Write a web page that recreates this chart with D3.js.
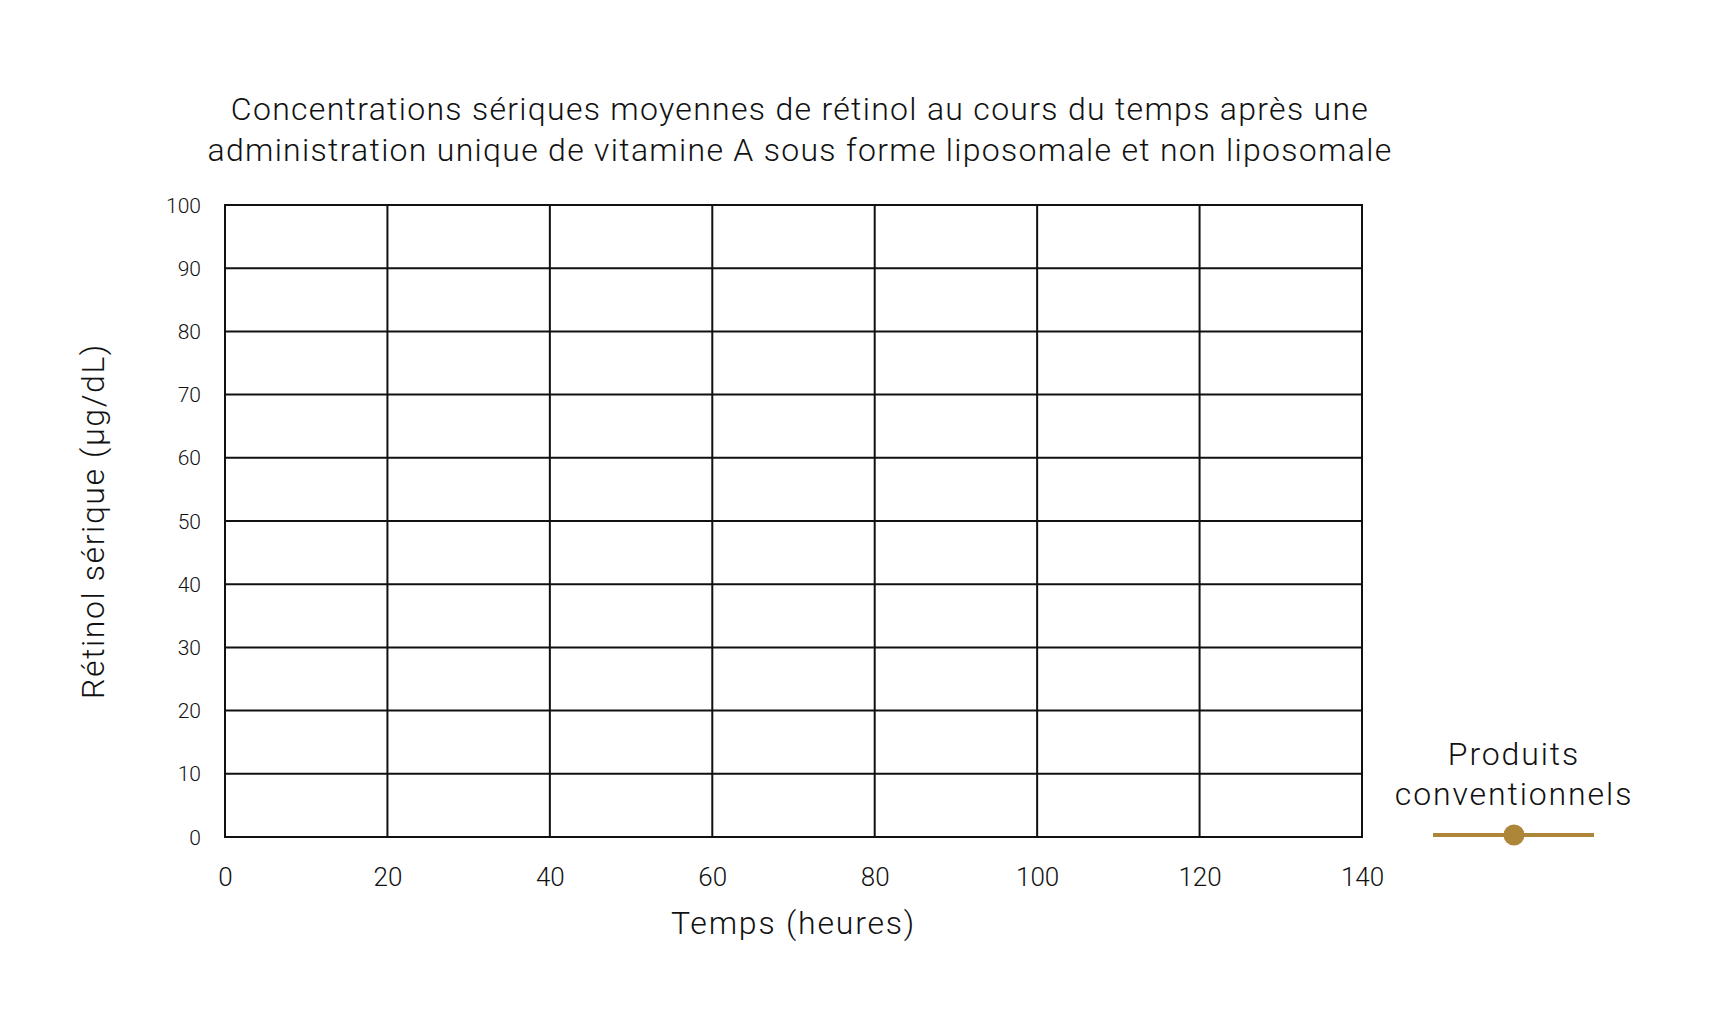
<!DOCTYPE html>
<html>
<head>
<meta charset="utf-8">
<script src="https://cdn.jsdelivr.net/npm/d3@7"></script>
<style>
  body { margin: 0; background: #fff; }
  svg text { font-family: Roboto, "Noto Sans", sans-serif; font-weight: 300; fill: #111; }
</style>
</head>
<body>
<div id="chart"></div>
<script>
// chart values
var titleLines = ["Concentrations sériques moyennes de rétinol au cours du temps après une",
                  "administration unique de vitamine A sous forme liposomale et non liposomale"];
var xLabel = "Temps (heures)";
var yLabel = "Rétinol sérique (µg/dL)";
var xTicks = [0, 20, 40, 60, 80, 100, 120, 140];
var yTicks = [0, 10, 20, 30, 40, 50, 60, 70, 80, 90, 100];
var legendLines = ["Produits", "conventionnels"];
var seriesColors = ["#ad863a"];
// no measured points are drawn in the reference
var conventionnels = [];

var W = 1719, H = 1029;
var mLeft = 225, mRight = 1362, mTop = 205, mBottom = 837;

var svg = d3.select('#chart').append('svg').attr('width', W).attr('height', H);

var xScale = d3.scaleLinear().domain([0, 140]).range([mLeft, mRight]);
var yScale = d3.scaleLinear().domain([0, 100]).range([mBottom, mTop]);

// grid
svg.append('g').selectAll('line').data(yTicks).enter().append('line')
  .attr('x1', mLeft - 1).attr('x2', mRight + 1)
  .attr('y1', d => yScale(d)).attr('y2', d => yScale(d))
  .attr('stroke', '#111').attr('stroke-width', 2);
svg.append('g').selectAll('line').data(xTicks).enter().append('line')
  .attr('y1', mTop).attr('y2', mBottom)
  .attr('x1', d => xScale(d)).attr('x2', d => xScale(d))
  .attr('stroke', '#111').attr('stroke-width', 2);

// axes (labels only)
var yAxis = d3.axisLeft(yScale).tickValues(yTicks).tickSize(0).tickPadding(0);
var gy = svg.append('g').attr('transform', 'translate(201,0)').call(yAxis);
gy.select('.domain').remove();
gy.selectAll('text').style('font-size', '21px').attr('fill', '#111').attr('dy', '0.34em');

var xAxis = d3.axisBottom(xScale).tickValues(xTicks).tickSize(0).tickPadding(0);
var gx = svg.append('g').attr('transform', 'translate(0,' + (mBottom + 31) + ')').call(xAxis);
gx.select('.domain').remove();
gx.selectAll('text').style('font-size', '26px').attr('fill', '#111');

// line for the series (empty in the reference)
svg.append('path').datum(conventionnels)
  .attr('fill', 'none').attr('stroke', seriesColors[0]).attr('stroke-width', 4)
  .attr('d', d3.line().x(d => xScale(d.t)).y(d => yScale(d.v)));

// title
svg.append('text').attr('text-anchor', 'middle').style('font-size', '32px').style('letter-spacing', '1.3px')
  .selectAll('tspan').data(titleLines).enter().append('tspan')
  .attr('x', 800).attr('y', (d, i) => 120 + i * 41).text(d => d);

// axis titles
svg.append('text').attr('x', (mLeft + mRight) / 2).attr('y', 934).attr('text-anchor', 'middle')
  .style('font-size', '32px').style('letter-spacing', '1.8px').text(xLabel);
svg.append('text').attr('transform', 'translate(104,' + ((mTop + mBottom) / 2) + ') rotate(-90)')
  .attr('text-anchor', 'middle').style('font-size', '32px').style('letter-spacing', '1.6px').text(yLabel);

// legend
var lg = svg.append('g').attr('transform', 'translate(1514,0)');
lg.append('text').attr('text-anchor', 'middle').style('font-size', '32px').style('letter-spacing', '1.9px')
  .selectAll('tspan').data(legendLines).enter().append('tspan')
  .attr('x', 0).attr('y', (d, i) => 765 + i * 40).text(d => d);
lg.append('line').attr('x1', -81).attr('x2', 80).attr('y1', 835).attr('y2', 835)
  .attr('stroke', seriesColors[0]).attr('stroke-width', 4);
lg.append('circle').attr('cx', 0).attr('cy', 835).attr('r', 10.5).attr('fill', seriesColors[0]);
</script>
</body>
</html>
